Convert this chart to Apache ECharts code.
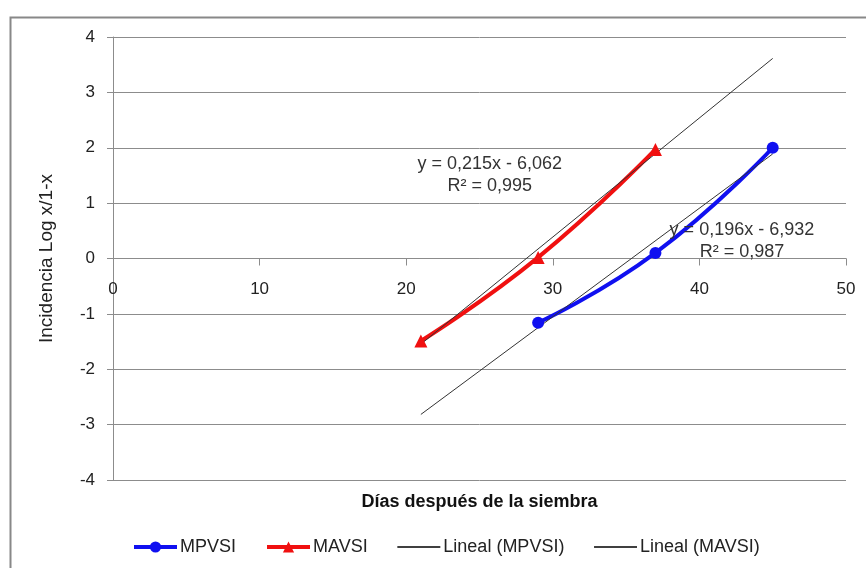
<!DOCTYPE html>
<html>
<head>
<meta charset="utf-8">
<script src="https://cdn.jsdelivr.net/npm/echarts@6/dist/echarts.min.js"></script>
<style>
html,body{margin:0;padding:0;background:#fff;}
#chart{width:866px;height:568px;}
</style>
</head>
<body>
<div id="chart"></div>
<script>
// ---- data ----
const mpvsiX = [29, 37, 45];
const mpvsiY = [-1.16, 0.10, 2.00];
const mavsiX = [21, 29, 37];
const mavsiY = [-1.49, 0.02, 1.97];
const mpvsiTrend = [0.196, -6.932];   // slope, intercept
const mavsiTrend = [0.215, -6.062];
const mpvsiTrendRange = [21, 45];
const mavsiTrendRange = [21, 45];
const seriesNames = ['MPVSI', 'MAVSI', 'Lineal (MPVSI)', 'Lineal (MAVSI)'];
const mpvsiEq = ['y = 0,196x - 6,932', 'R² = 0,987'];
const mavsiEq = ['y = 0,215x - 6,062', 'R² = 0,995'];
const mpvsiEqPos = [42.9, 0.31];
const mavsiEqPos = [25.7, 1.51];
const xTitle = 'Días después de la siembra';
const yTitle = 'Incidencia Log x/1-x';
const xRange = [0, 50, 10];
const yRange = [-4, 4, 1];

const zip = (xs, ys) => xs.map((x, i) => [x, ys[i]]);
const trendPts = (t, r) => r.map(x => [x, t[0] * x + t[1]]);

const FONT = '"Liberation Sans", Arial, sans-serif';
const GRID_C = '#8c8c8c';
const W = 866, H = 568;
const G = {left: 113, right: 20, top: 37, bottom: 88};
const gridH = H - G.top - G.bottom;
// x axis crosses at y = 0
const zeroOffset = -gridH * (0 - yRange[0]) / (yRange[1] - yRange[0]);

const chart = echarts.init(document.getElementById('chart'), null, {renderer: 'canvas'});

const eqMark = (lines, pos) => ({
  symbol: 'circle',
  symbolSize: 1,
  itemStyle: {color: 'rgba(0,0,0,0)'},
  label: {
    show: true, position: 'inside', formatter: lines.join('\n'),
    color: '#333', fontFamily: FONT, fontSize: 18, lineHeight: 22, align: 'center'
  },
  data: [{coord: pos}]
});

const BLUE = '#1010f0', RED = '#f01010', TREND = '#333';

chart.setOption({
  animation: false,
  backgroundColor: '#fff',
  graphic: [{
    type: 'rect', left: 8, top: 15, silent: true,
    shape: {width: 900, height: 600},
    style: {fill: 'none', stroke: '#888', lineWidth: 2}
  }],
  grid: Object.assign({containLabel: false}, G),
  xAxis: [{
    type: 'value', min: xRange[0], max: xRange[1], interval: xRange[2],
    position: 'bottom', offset: zeroOffset,
    axisLine: {show: true, onZero: false, lineStyle: {color: GRID_C}},
    axisTick: {show: true, inside: false, length: 7, lineStyle: {color: GRID_C}},
    axisLabel: {margin: 22, color: '#222', fontFamily: FONT, fontSize: 17},
    splitLine: {show: false}
  }, {
    type: 'value', min: xRange[0], max: xRange[1], position: 'bottom',
    axisLine: {show: false, onZero: false}, axisTick: {show: false},
    axisLabel: {show: false}, splitLine: {show: false},
    name: xTitle, nameLocation: 'middle', nameGap: 13,
    nameTextStyle: {fontFamily: FONT, fontSize: 18, fontWeight: 'bold', color: '#111'}
  }],
  yAxis: {
    type: 'value', min: yRange[0], max: yRange[1], interval: yRange[2],
    axisLine: {show: true, onZero: false, lineStyle: {color: GRID_C}},
    axisTick: {show: true, length: 6, lineStyle: {color: GRID_C}},
    axisLabel: {margin: 18, color: '#222', fontFamily: FONT, fontSize: 17},
    splitLine: {show: true, lineStyle: {color: GRID_C, width: 1}},
    name: yTitle, nameLocation: 'middle', nameGap: 57, nameRotate: 90,
    nameTextStyle: {fontFamily: FONT, fontSize: 19, color: '#222'}
  },
  legend: {
    bottom: 7, left: 127, itemGap: 29, itemWidth: 43, itemHeight: 14,
    textStyle: {fontFamily: FONT, fontSize: 18, color: '#222', padding: [0, 0, 0, -2]},
    data: [
      {name: seriesNames[0], lineStyle: {width: 4}},
      {name: seriesNames[1], lineStyle: {width: 4}},
      {name: seriesNames[2], lineStyle: {width: 1.3, color: '#000', opacity: 1}, itemStyle: {opacity: 0}},
      {name: seriesNames[3], lineStyle: {width: 1.3, color: '#000', opacity: 1}, itemStyle: {opacity: 0}}
    ]
  },
  series: [{
    name: seriesNames[0], type: 'line', smooth: true,
    data: zip(mpvsiX, mpvsiY),
    symbol: 'circle', symbolSize: 12,
    lineStyle: {color: BLUE, width: 4},
    itemStyle: {color: BLUE}
  }, {
    name: seriesNames[1], type: 'line', smooth: true,
    data: zip(mavsiX, mavsiY),
    symbol: 'triangle', symbolSize: 13,
    lineStyle: {color: RED, width: 4},
    itemStyle: {color: RED}
  }, {
    name: seriesNames[2], type: 'line', symbol: 'none',
    data: trendPts(mpvsiTrend, mpvsiTrendRange),
    lineStyle: {color: TREND, width: 1},
    itemStyle: {color: TREND},
    markPoint: eqMark(mpvsiEq, mpvsiEqPos)
  }, {
    name: seriesNames[3], type: 'line', symbol: 'none',
    data: trendPts(mavsiTrend, mavsiTrendRange),
    lineStyle: {color: TREND, width: 1},
    itemStyle: {color: TREND},
    markPoint: eqMark(mavsiEq, mavsiEqPos)
  }]
});
</script>
</body>
</html>
